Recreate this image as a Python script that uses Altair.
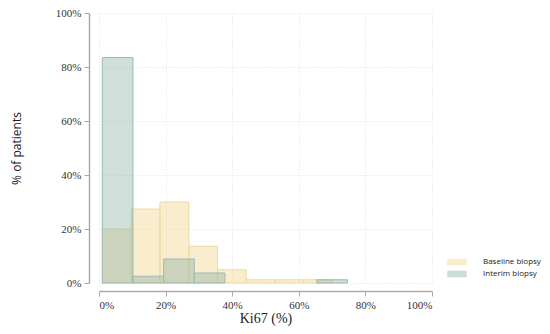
import altair as alt
import pandas as pd

# Baseline biopsy histogram (Ki67 %, bin edges and % of patients)
base_start = [1, 9.7, 18.3, 27.0, 35.6, 44.2, 52.9, 61.5]
base_end = [9.7, 18.3, 27.0, 35.6, 44.2, 52.9, 61.5, 70.1]
base_pct = [20.0, 27.4, 30.0, 13.6, 4.9, 1.2, 1.2, 1.2]

# Interim biopsy histogram
int_start = [1, 10.2, 19.4, 28.6, 65.4]
int_end = [10.2, 19.4, 28.6, 37.8, 74.6]
int_pct = [83.5, 2.5, 8.9, 3.7, 1.2]

series = ["Baseline biopsy", "Interim biopsy"]

df = pd.concat([
    pd.DataFrame({"x0": base_start, "x1": base_end, "pct": base_pct, "group": series[0]}),
    pd.DataFrame({"x0": int_start, "x1": int_end, "pct": int_pct, "group": series[1]}),
], ignore_index=True)
df["order"] = (df["group"] == series[1]).astype(int)

xscale = alt.Scale(domain=[0, 100], nice=False, zero=False)
yscale = alt.Scale(domain=[0, 100], nice=False)

color = alt.Color(
    "group:N",
    scale=alt.Scale(domain=series, range=["#f0d48a", "#8fb3a8"]),
    legend=alt.Legend(
        title=None,
        orient="none",
        legendX=351,
        legendY=242,
        symbolType="M-1.5,-0.5H1.5V0.5H-1.5Z",
        symbolSize=170,
        symbolOpacity=0.45,
        symbolStrokeWidth=0,
        labelFont="Open Sans",
        labelFontSize=8,
        labelColor="#222222",
        rowPadding=1,
        labelOffset=19,
    ),
)
stroke = alt.Stroke(
    "group:N",
    scale=alt.Scale(domain=series, range=["#ecd9a4", "#9dbab1"]),
    legend=None,
)

bars = alt.Chart(df).mark_rect(fillOpacity=0.42, strokeWidth=1).encode(
    x=alt.X(
        "x0:Q",
        scale=xscale,
        axis=alt.Axis(
            values=[0, 20, 40, 60, 80, 100],
            labelExpr="datum.value + '%'",
            title="Ki67 (%)",
            titleFont="Liberation Serif",
            titleFontSize=14,
            titleFontWeight="normal",
            titleColor="#222222",
            titlePadding=1,
            labelFont="Liberation Serif",
            labelFontSize=11,
            labelColor="#333333",
            offset=8,
            domainColor="#aaaaaa",
            tickColor="#aaaaaa",
            tickSize=5,
            labelPadding=3,
            grid=True,
            gridColor="#e2e2e2",
            gridDash=[1, 2],
        ),
    ),
    x2="x1:Q",
    y=alt.Y(
        "pct:Q",
        scale=yscale,
        axis=alt.Axis(
            values=[0, 20, 40, 60, 80, 100],
            labelExpr="datum.value + '%'",
            title="% of patients",
            titleFont="Open Sans",
            titleFontSize=12,
            titleFontWeight="normal",
            titleColor="#222222",
            titlePadding=32,
            labelFont="Liberation Serif",
            labelFontSize=11,
            labelColor="#333333",
            offset=10,
            domainColor="#aaaaaa",
            tickColor="#aaaaaa",
            tickSize=5,
            labelPadding=3,
            grid=True,
            gridColor="#e2e2e2",
            gridDash=[1, 2],
        ),
    ),
    y2=alt.Y2(datum=0),
    color=color,
    stroke=stroke,
    order="order:Q",
)

chart = bars.properties(
    width=333,
    height=270,
    autosize=alt.AutoSizeParams(type="none"),
    padding={"left": 91, "top": 5, "right": 110, "bottom": 50},
).configure_view(stroke=None).configure_axis(
    domainWidth=1.5,
)

chart.save("out.html", embed_options={"renderer": "svg", "actions": False})
